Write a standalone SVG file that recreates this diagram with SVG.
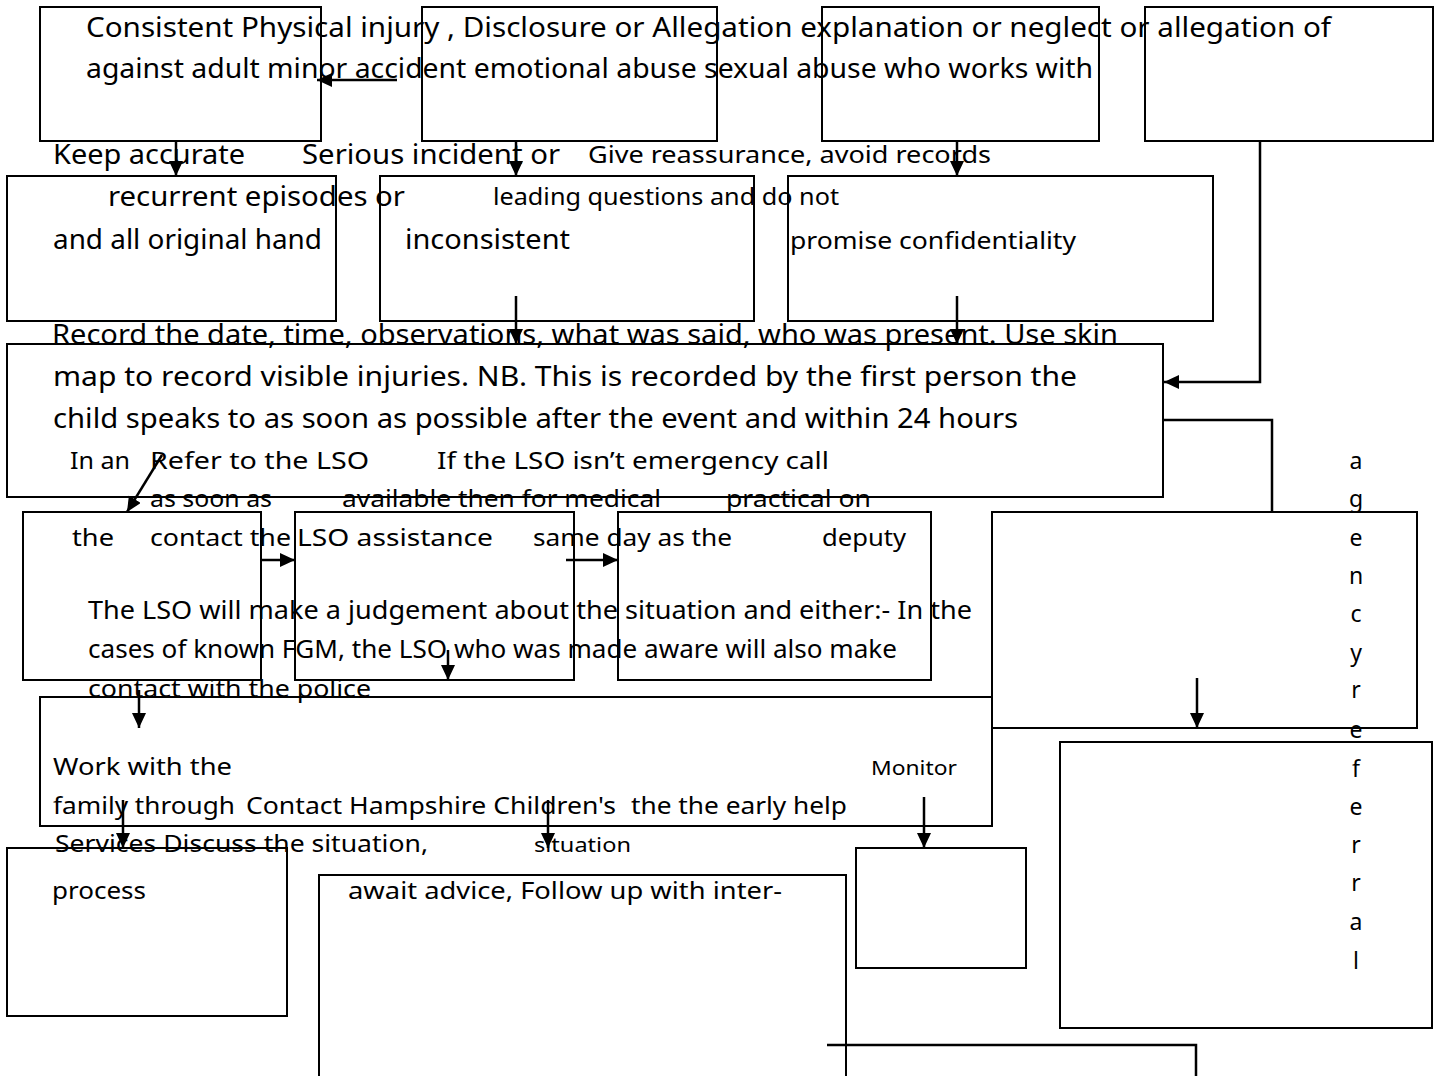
<svg xmlns="http://www.w3.org/2000/svg" width="1434" height="1076" viewBox="0 0 1434 1076">
<style>
.box{fill:none;stroke:#000;stroke-width:2}
.ln{fill:none;stroke:#000;stroke-width:2.5}
.t{font-family:"Noto Sans","DejaVu Sans",sans-serif;font-size:27px;fill:#000}
.s{font-family:"Noto Sans","DejaVu Sans",sans-serif;font-size:23px;fill:#000}
.v{font-family:"Noto Sans","DejaVu Sans",sans-serif;font-size:23px;fill:#000;text-anchor:middle}
</style>
<defs>
<marker id="ah" markerUnits="userSpaceOnUse" markerWidth="16" markerHeight="16" refX="15" refY="7" orient="auto">
<path d="M0,0 L15,7 L0,14 z" fill="#000"/>
</marker>
</defs>
<rect width="1434" height="1076" fill="#fff"/>
<g id="nodes">
<g id="nA"><rect class="box" x="40" y="7" width="281" height="134"/></g>
<g id="nB"><rect class="box" x="422" y="7" width="295" height="134"/></g>
<g id="nC"><rect class="box" x="822" y="7" width="277" height="134"/></g>
<g id="nD"><rect class="box" x="1145" y="7" width="288" height="134"/></g>
<g id="nE"><rect class="box" x="7" y="176" width="329" height="145"/></g>
<g id="nF"><rect class="box" x="380" y="176" width="374" height="145"/></g>
<g id="nG"><rect class="box" x="788" y="176" width="425" height="145"/></g>
<g id="nH"><rect class="box" x="7" y="344" width="1156" height="153"/></g>
<g id="nI"><rect class="box" x="23" y="512" width="238" height="168"/></g>
<g id="nJ"><rect class="box" x="295" y="512" width="279" height="168"/></g>
<g id="nK"><rect class="box" x="618" y="512" width="313" height="168"/></g>
<g id="nL"><rect class="box" x="992" y="512" width="425" height="216"/></g>
<g id="nM"><rect class="box" x="40" y="697" width="952" height="129"/></g>
<g id="nN"><rect class="box" x="1060" y="742" width="372" height="286"/></g>
<g id="nO"><rect class="box" x="7" y="848" width="280" height="168"/></g>
<g id="nP"><rect class="box" x="319" y="875" width="527" height="210"/></g>
<g id="nQ"><rect class="box" x="856" y="848" width="170" height="120"/></g>
</g>
<g id="connectors">
<path class="ln" d="M397,80 L317,80" marker-end="url(#ah)"/>
<path class="ln" d="M176,141 L176,176" marker-end="url(#ah)"/>
<path class="ln" d="M516,141 L516,176" marker-end="url(#ah)"/>
<path class="ln" d="M957,141 L957,176" marker-end="url(#ah)"/>
<path class="ln" d="M1260,141 L1260,382 L1164,382" marker-end="url(#ah)"/>
<path class="ln" d="M516,296 L516,344" marker-end="url(#ah)"/>
<path class="ln" d="M957,296 L957,344" marker-end="url(#ah)"/>
<path class="ln" d="M1163,420 L1272,420 L1272,512"/>
<path class="ln" d="M162,455 L127,512" marker-end="url(#ah)"/>
<path class="ln" d="M261,560 L295,560" marker-end="url(#ah)"/>
<path class="ln" d="M566,560 L618,560" marker-end="url(#ah)"/>
<path class="ln" d="M448,650 L448,680" marker-end="url(#ah)"/>
<path class="ln" d="M139,690 L139,728" marker-end="url(#ah)"/>
<path class="ln" d="M1197,678 L1197,728" marker-end="url(#ah)"/>
<path class="ln" d="M123,800 L123,848" marker-end="url(#ah)"/>
<path class="ln" d="M548,800 L548,848" marker-end="url(#ah)"/>
<path class="ln" d="M924,797 L924,848" marker-end="url(#ah)"/>
<path class="ln" d="M827,1045 L1196,1045 L1196,1076"/>
</g>
<g id="labels">
<text class="t" x="86" y="37" textLength="1245" lengthAdjust="spacingAndGlyphs">Consistent Physical injury , Disclosure or Allegation explanation or neglect or allegation of</text>
<text class="t" x="86" y="78" textLength="1007" lengthAdjust="spacingAndGlyphs">against adult minor accident emotional abuse sexual abuse who works with</text>
<text class="t" x="53" y="164" textLength="192" lengthAdjust="spacingAndGlyphs">Keep accurate</text>
<text class="t" x="302" y="164" textLength="258" lengthAdjust="spacingAndGlyphs">Serious incident or</text>
<text class="s" x="588" y="163" textLength="403" lengthAdjust="spacingAndGlyphs">Give reassurance, avoid records</text>
<text class="t" x="108" y="206" textLength="297" lengthAdjust="spacingAndGlyphs">recurrent episodes or</text>
<text class="s" x="493" y="205" textLength="346" lengthAdjust="spacingAndGlyphs">leading questions and do not</text>
<text class="t" x="53" y="249" textLength="269" lengthAdjust="spacingAndGlyphs">and all original hand</text>
<text class="t" x="405" y="249" textLength="165" lengthAdjust="spacingAndGlyphs">inconsistent</text>
<text class="s" x="790" y="249" textLength="286" lengthAdjust="spacingAndGlyphs">promise confidentiality</text>
<text class="t" x="52" y="344" textLength="1066" lengthAdjust="spacingAndGlyphs">Record the date, time, observations, what was said, who was present. Use skin</text>
<text class="t" x="53" y="386" textLength="1024" lengthAdjust="spacingAndGlyphs">map to record visible injuries. NB. This is recorded by the first person the</text>
<text class="t" x="53" y="428" textLength="965" lengthAdjust="spacingAndGlyphs">child speaks to as soon as possible after the event and within 24 hours</text>
<text class="s" x="70" y="469" textLength="60" lengthAdjust="spacingAndGlyphs">In an</text>
<text class="s" x="150" y="469" textLength="219" lengthAdjust="spacingAndGlyphs">Refer to the LSO</text>
<text class="s" x="437" y="469" textLength="392" lengthAdjust="spacingAndGlyphs">If the LSO isn’t emergency call</text>
<text class="s" x="150" y="507" textLength="122" lengthAdjust="spacingAndGlyphs">as soon as</text>
<text class="s" x="342" y="507" textLength="319" lengthAdjust="spacingAndGlyphs">available then for medical</text>
<text class="s" x="726" y="507" textLength="145" lengthAdjust="spacingAndGlyphs">practical on</text>
<text class="s" x="72" y="546" textLength="42" lengthAdjust="spacingAndGlyphs">the</text>
<text class="s" x="150" y="546" textLength="141" lengthAdjust="spacingAndGlyphs">contact the</text>
<text class="s" x="297" y="546" textLength="196" lengthAdjust="spacingAndGlyphs">LSO assistance</text>
<text class="s" x="533" y="546" textLength="199" lengthAdjust="spacingAndGlyphs">same day as the</text>
<text class="s" x="822" y="546" textLength="84" lengthAdjust="spacingAndGlyphs">deputy</text>
<text class="s" x="88" y="619" style="font-size:25px" textLength="884" lengthAdjust="spacingAndGlyphs">The LSO will make a judgement about the situation and either:-  In the</text>
<text class="s" x="88" y="658" style="font-size:25px" textLength="809" lengthAdjust="spacingAndGlyphs">cases of known FGM, the LSO who was made aware will also make</text>
<text class="s" x="88" y="697" textLength="283" lengthAdjust="spacingAndGlyphs">contact with the police</text>
<text class="s" x="53" y="775" textLength="179" lengthAdjust="spacingAndGlyphs">Work with the</text>
<text class="s" x="871" y="775" style="font-size:19px" textLength="86" lengthAdjust="spacingAndGlyphs">Monitor</text>
<text class="s" x="53" y="814" textLength="182" lengthAdjust="spacingAndGlyphs">family through</text>
<text class="s" x="246" y="814" textLength="370" lengthAdjust="spacingAndGlyphs">Contact Hampshire Children's</text>
<text class="s" x="631" y="814" textLength="216" lengthAdjust="spacingAndGlyphs">the the early help</text>
<text class="s" x="55" y="852" textLength="373" lengthAdjust="spacingAndGlyphs">Services Discuss the situation,</text>
<text class="s" x="534" y="852" style="font-size:20px" textLength="97" lengthAdjust="spacingAndGlyphs">situation</text>
<text class="s" x="52" y="899" textLength="94" lengthAdjust="spacingAndGlyphs">process</text>
<text class="s" x="348" y="899" textLength="434" lengthAdjust="spacingAndGlyphs">await advice, Follow up with inter-</text>
<text class="v" x="1356" y="469">a</text>
<text class="v" x="1356" y="507">g</text>
<text class="v" x="1356" y="546">e</text>
<text class="v" x="1356" y="584">n</text>
<text class="v" x="1356" y="622">c</text>
<text class="v" x="1356" y="661">y</text>
<text class="v" x="1356" y="698">r</text>
<text class="v" x="1356" y="738">e</text>
<text class="v" x="1356" y="777">f</text>
<text class="v" x="1356" y="815">e</text>
<text class="v" x="1356" y="853">r</text>
<text class="v" x="1356" y="891">r</text>
<text class="v" x="1356" y="930">a</text>
<text class="v" x="1356" y="969">l</text>
</g>
</svg>
